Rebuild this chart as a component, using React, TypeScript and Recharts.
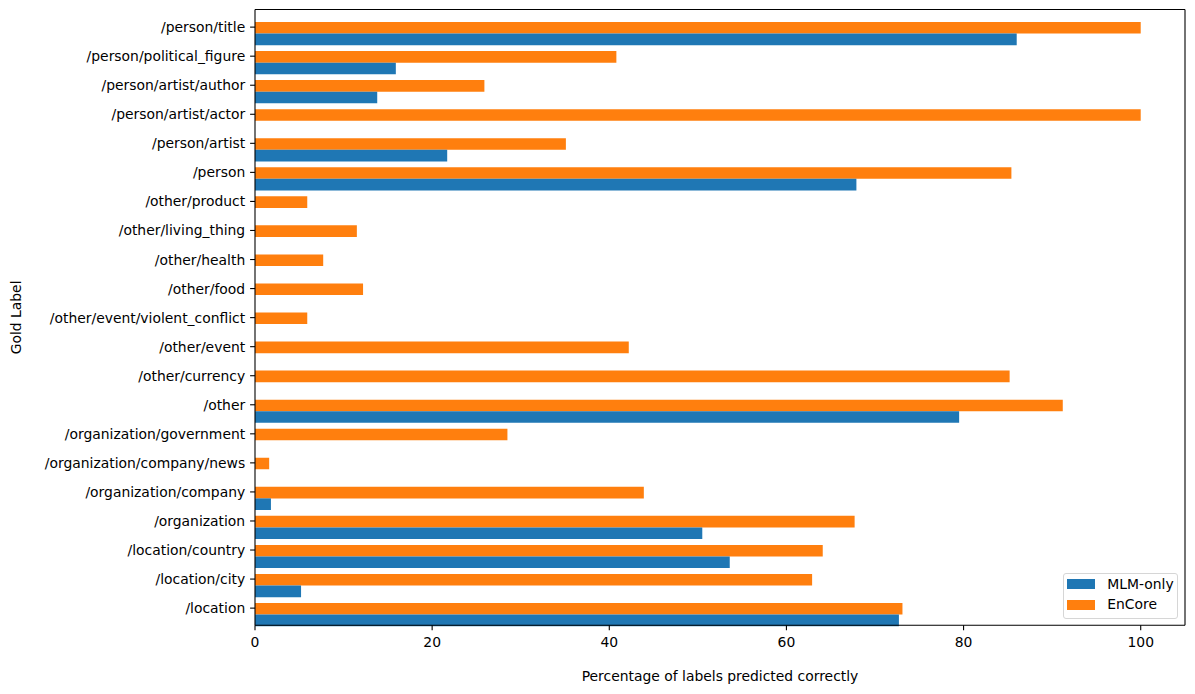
import { Bar, BarChart, Legend, XAxis, YAxis } from 'recharts'

const labels = [
  '/person/title', '/person/political_figure', '/person/artist/author', '/person/artist/actor',
  '/person/artist', '/person', '/other/product', '/other/living_thing', '/other/health',
  '/other/food', '/other/event/violent_conflict', '/other/event', '/other/currency', '/other',
  '/organization/government', '/organization/company/news', '/organization/company',
  '/organization', '/location/country', '/location/city', '/location',
]
const mlmOnly = [86.0, 15.9, 13.8, 0, 21.7, 67.9, 0, 0, 0, 0, 0, 0, 0, 79.5, 0, 0, 1.8, 50.5, 53.6, 5.2, 72.7]
const enCore = [100, 40.8, 25.9, 100, 35.1, 85.4, 5.9, 11.5, 7.7, 12.2, 5.9, 42.2, 85.2, 91.2, 28.5, 1.6, 43.9, 67.7, 64.1, 62.9, 73.1]
const xTicks = [0, 20, 40, 60, 80, 100]

const data = labels.map((label, i) => ({ label, mlm: mlmOnly[i], encore: enCore[i] }))

const FONT = 'DejaVu Sans'
const FS = 13.9
const TICK = 4.9

function YTick(props: any) {
  const { x, y, payload } = props
  const ty = y - 6.4
  return <g>
    <line x1={x + TICK} x2={x + 2 * TICK} y1={ty} y2={ty} stroke="#000" strokeWidth={1.1} />
    <text x={x} y={ty + 5} textAnchor="end" fontFamily={FONT} fontSize={FS} fill="#000">{payload.value}</text>
  </g>
}

function XTick(props: any) {
  const { x, y, payload } = props
  return <text x={x} y={y + 12.2} textAnchor="middle" fontFamily={FONT} fontSize={FS} fill="#000">{payload.value}</text>
}

function YLabel(props: any) {
  const vb = props.viewBox
  const cy = vb.y + vb.height / 2
  return <text x={21} y={cy} transform={`rotate(-90, 21, ${cy})`} textAnchor="middle" fontFamily={FONT} fontSize={FS} fill="#000">Gold Label</text>
}

function XLabel(props: any) {
  const vb = props.viewBox
  return <text x={vb.x + vb.width / 2} y={681} textAnchor="middle" fontFamily={FONT} fontSize={FS} fill="#000">Percentage of labels predicted correctly</text>
}

function LegendBox(props: any) {
  const items = [...(props.payload || [])].reverse()
  return <div style={{ position: 'relative', width: 115.6, height: 46.6, boxSizing: 'border-box', border: '1px solid #d6d6d6', borderRadius: 3, background: 'rgba(255,255,255,0.8)', fontFamily: FONT, fontSize: FS }}>
    {items.map((it: any, i: number) => <div key={it.value}>
      <div style={{ position: 'absolute', left: 3.6, top: 5.3 + i * 21, width: 27.7, height: 10, background: it.color }} />
      <div style={{ position: 'absolute', left: 43.6, top: -0.2 + i * 21, height: 21, lineHeight: '21px', whiteSpace: 'nowrap', color: '#000' }}>{it.value}</div>
    </div>)}
  </div>
}

export default function App() {
  return <div style={{ position: 'absolute', left: 0, top: 0, width: 1195, height: 694, background: '#fff' }}>
    <BarChart width={1195} height={694} data={data} layout="vertical" barGap={0}
      margin={{ top: 8.5, right: 9, left: 0, bottom: 0 }}>
      <XAxis type="number" domain={[0, 105]} ticks={xTicks} height={68.7} allowDataOverflow
        tick={<XTick />} tickSize={TICK} tickMargin={TICK}
        axisLine={{ stroke: '#000', strokeWidth: 1.1 }} tickLine={{ stroke: '#000', strokeWidth: 1.1 }}
        label={<XLabel />} />
      <XAxis xAxisId="top" orientation="top" type="number" domain={[0, 105]} height={1}
        tick={false} tickLine={false} axisLine={{ stroke: '#000', strokeWidth: 1.1 }} />
      <YAxis type="category" dataKey="label" width={255} interval={0}
        padding={{ top: 9.5, bottom: -3.75 }}
        tick={<YTick />} tickSize={TICK} tickMargin={TICK} tickLine={false}
        axisLine={{ stroke: '#000', strokeWidth: 1.1 }} label={<YLabel />} />
      <YAxis yAxisId="right" orientation="right" type="number" domain={[0, 1]} width={1}
        tick={false} tickLine={false} axisLine={{ stroke: '#000', strokeWidth: 1.1 }} />
      <Legend layout="vertical" align="center" verticalAlign="middle" content={<LegendBox />}
        wrapperStyle={{ left: 1062.7, top: 572.7, width: 115.6, height: 46.6 }} />
      <Bar dataKey="encore" name="EnCore" fill="#ff7f0e" barSize={11.6} isAnimationActive={false} />
      <Bar dataKey="mlm" name="MLM-only" fill="#1f77b4" barSize={11.6} isAnimationActive={false} />
    </BarChart>
  </div>
}
